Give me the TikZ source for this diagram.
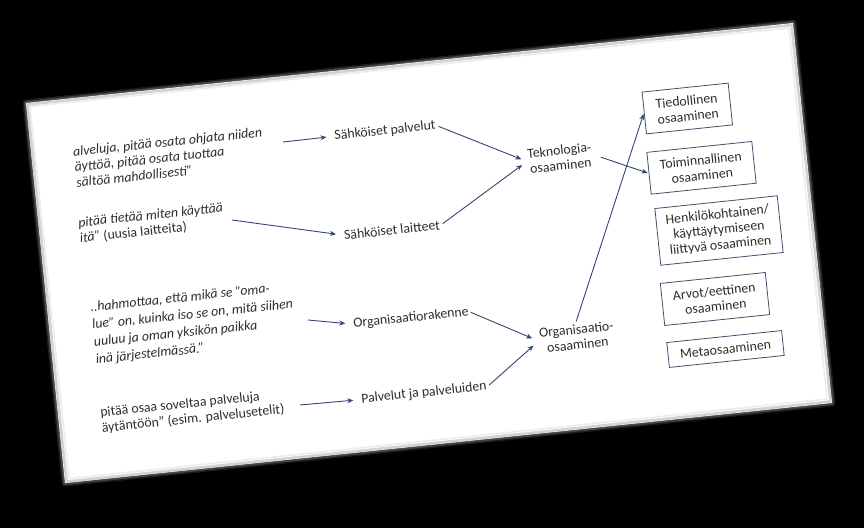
\documentclass[tikz,border=0pt]{standalone}
\usepackage{fontspec}
\setmainfont{Carlito}
\usetikzlibrary{arrows.meta}
\definecolor{lnc}{RGB}{50,70,115}
\definecolor{boxc}{RGB}{65,80,110}
\definecolor{txc}{RGB}{45,45,45}
\begin{document}
\begin{tikzpicture}[x=1pt,y=-1pt,
  every node/.style={font=\fontsize{13.8}{15.5}\selectfont, text=txc, rotate=5.95, inner sep=1pt},
  quote/.style={align=left, anchor=west, inner sep=0pt},
  quoteit/.style={quote, font=\fontsize{13.8}{15.5}\selectfont\itshape},
  quotewide/.style={quote, font=\fontsize{13.8}{17.5}\selectfont\itshape},
  mid/.style={align=center},
  kbox/.style={draw=boxc, line width=0.8pt, align=center, inner sep=0pt},
  conn/.style={draw=lnc, line width=0.9pt, -{Stealth[length=6pt,width=5pt]}},
  slide/.style={line join=round}
]
\useasboundingbox (0,0) rectangle (864,528);
\fill[black] (0,0) rectangle (864,528);
% slide with soft edge
\draw[slide, gray!60, line width=7pt, opacity=0.15] (26,103) -- (793,23) -- (832,403) -- (65,483) -- cycle;
\draw[slide, gray!60, line width=4pt, opacity=0.3] (26,103) -- (793,23) -- (832,403) -- (65,483) -- cycle;
\fill[slide, white] (26,103) -- (793,23) -- (832,403) -- (65,483) -- cycle;
\draw[slide, gray!35, line width=2.5pt] (27.5,104.5) -- (791.5,25) -- (830.5,401.5) -- (66.5,481.5) -- cycle;
\draw[slide, gray!15, line width=1.5pt] (30,106.5) -- (789,28) -- (827,399) -- (69,478.5) -- cycle;

% quotes
\node[quoteit] (q1) at (74.5,167) {alveluja, pitää osata ohjata niiden\\äyttöä, pitää osata tuottaa\\sältöä mahdollisesti”};
\node[quote] (q2) at (79,231) {\textit{pitää tietää miten käyttää}\\\textit{itä”} (uusia laitteita)};
\node[quotewide] (q3) at (93,334) {..hahmottaa, että mikä se ”oma-\\lue” on, kuinka iso se on, mitä siihen\\uuluu ja oman yksikön paikka\\inä järjestelmässä.”};
\node[quote] (q4) at (101,421) {pitää osaa soveltaa palveluja\\äytäntöön” (esim. palvelusetelit)};

% middle column
\node (sp) at (385,131) {Sähköiset palvelut};
\node (sl) at (392,230) {Sähköiset laitteet};
\node[mid] (tek) at (560,158) {Teknologia-\\osaaminen};
\node (orgr) at (411,318) {Organisaatiorakenne};
\node[mid] (org) at (577,337) {Organisaatio-\\osaaminen};
\node (pj) at (424,393) {Palvelut ja palveluiden};

% right boxes
\node[kbox, minimum width=86.5pt, minimum height=42pt] (tied) at (687.3,108.5) {Tiedollinen\\osaaminen};
\node[kbox, minimum width=105.5pt, minimum height=42pt] (toim) at (701.5,167.8) {Toiminnallinen\\osaaminen};
\node[kbox, minimum width=123pt, minimum height=57pt] (henk) at (719,230.5) {Henkilökohtainen/\\käyttäytymiseen\\liittyvä osaaminen};
\node[kbox, minimum width=105.5pt, minimum height=42.3pt] (arv) at (715,299) {Arvot/eettinen\\osaaminen};
\node[kbox, minimum width=115.4pt, minimum height=25pt] (meta) at (725.5,349) {Metaosaaminen};

% free ends
\coordinate (c1) at (283,142);
\coordinate (c2) at (232,220);
\coordinate (c3) at (308,320);
\coordinate (c4) at (300,405);

% connectors
\draw[conn, shorten >=7pt] (c1) -- (sp.west);
\draw[conn, shorten >=7pt] (c2) -- (sl.west);
\draw[conn, shorten <=2pt, shorten >=6pt] (sp.east) -- (tek.west);
\draw[conn, shorten <=2pt, shorten >=6pt] (sl.east) -- (tek.west);
\draw[conn, shorten >=7pt] (c3) -- (orgr.west);
\draw[conn, shorten <=1pt, shorten >=7pt] (orgr.east) -- (org.west);
\draw[conn, shorten >=7pt] (c4) -- (pj.west);
\draw[conn, shorten <=2pt, shorten >=7pt] (pj.east) -- (org.west);
\draw[conn, shorten <=2pt, shorten >=1pt] (org.north) -- (tied.west);
\draw[conn, shorten <=8pt, shorten >=1pt] (tek.east) -- (toim.west);
\end{tikzpicture}
\end{document}
